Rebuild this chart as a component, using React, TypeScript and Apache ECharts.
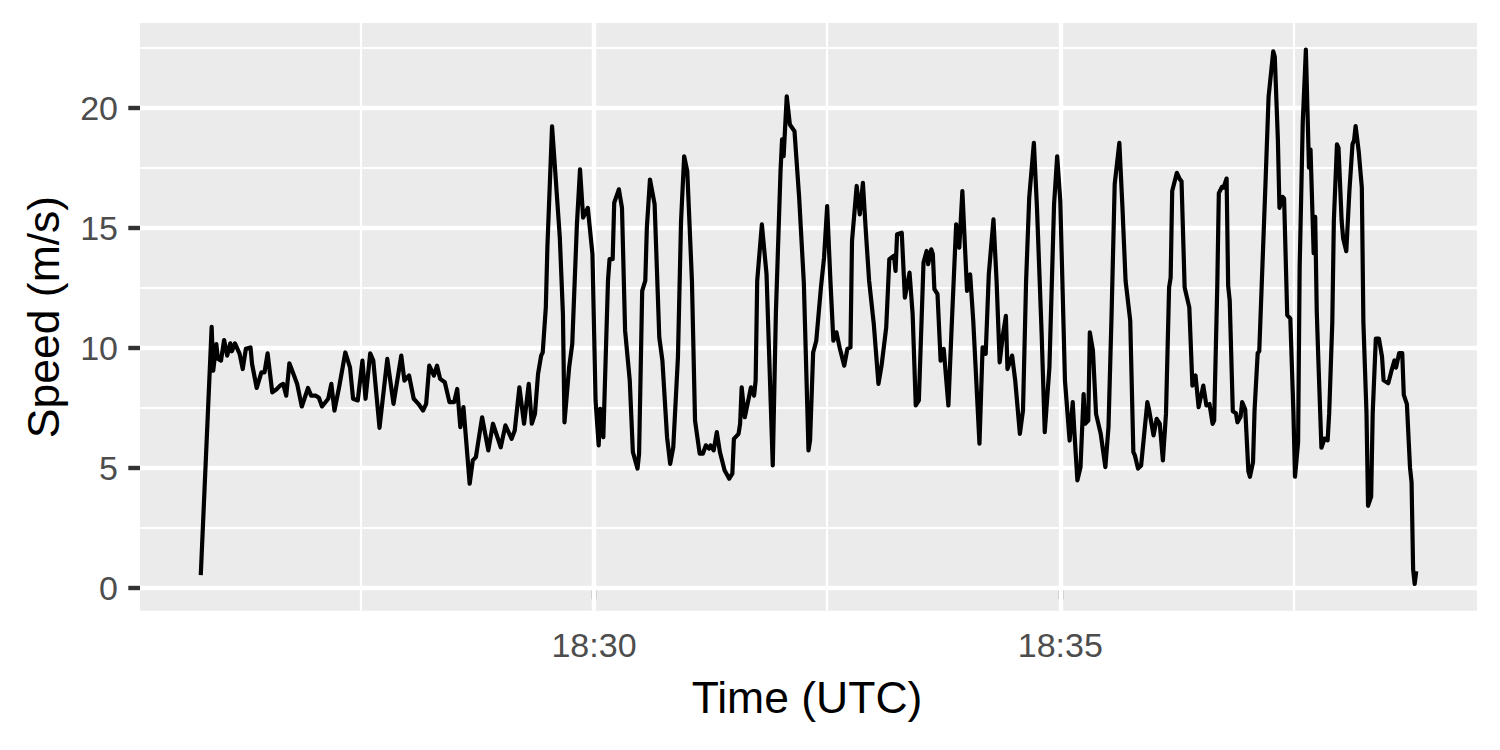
import React, { useEffect, useRef } from "react";
import * as echarts from "echarts";

// Time: seconds after 18:25:00 UTC
const timeSec = [
  47, 54, 55, 57, 58, 60, 62, 64, 66, 67, 69, 72, 74, 76, 79, 80, 83, 86, 88, 90,
  93, 96, 98, 100, 102, 104, 107, 109, 112, 116, 118, 121, 123, 125, 129, 131, 133, 136, 140, 143,
  145, 148, 151, 153, 156, 158, 162, 167, 171, 176, 178, 181, 184, 187, 190, 192, 194, 197, 199, 201,
  204, 207, 210, 212, 214, 216, 220, 222, 224, 228, 232, 235, 240, 243, 247, 249, 252, 255, 258, 260,
  262, 264, 266, 267, 269, 270, 273, 274, 278, 280, 281, 284, 286, 289, 291, 293, 296, 299, 301, 303,
  304, 306, 309, 310, 312, 313, 316, 318, 320, 323, 325, 328, 329, 331, 333, 334, 336, 339, 342, 344,
  347, 349, 351, 354, 356, 358, 360, 363, 365, 368, 370, 372, 374, 375, 377, 379, 381, 384, 387, 389,
  390, 393, 394, 395, 397, 401, 403, 404, 405, 408, 411, 415, 417, 420, 421, 422, 424, 426, 429, 432,
  435, 438, 439, 441, 443, 446, 448, 450, 452, 454, 456, 458, 461, 463, 465, 466, 469, 471, 473, 475,
  477, 480, 483, 485, 488, 490, 493, 494, 495, 498, 500, 503, 505, 507, 509, 512, 514, 515, 517, 518,
  519, 521, 523, 525, 528, 530, 533, 535, 537, 540, 542, 544, 548, 550, 552, 554, 557, 559, 561, 563,
  565, 566, 569, 571, 574, 576, 578, 580, 583, 585, 588, 590, 593, 596, 598, 600, 603, 606, 608, 609,
  611, 613, 615, 616, 618, 619, 621, 623, 626, 629, 631, 633, 635, 638, 640, 642, 645, 647, 648, 650,
  652, 654, 656, 657, 660, 662, 664, 666, 668, 670, 671, 672, 675, 677, 678, 680, 683, 685, 687, 689,
  692, 694, 696, 698, 699, 701, 702, 704, 705, 707, 708, 709, 711, 713, 714, 716, 717, 719, 721, 722,
  724, 725, 727, 728, 730, 732, 734, 737, 738, 740, 741, 743, 744, 746, 748, 750, 751, 753, 754, 756,
  758, 760, 761, 763, 764, 765, 766, 768, 770, 772, 773, 775, 776, 778, 779, 781, 782, 784, 786, 788,
  789, 790, 792, 794, 795, 797, 798, 800, 801, 803, 805, 807, 808, 810, 811, 813, 815, 816, 818, 820,
  821, 823, 825, 826, 827, 828, 829,
];

// Speed (m/s)
const speed = [
  0.52, 10.87, 9.04, 10.15, 9.54, 9.46, 10.32, 9.67, 10.18, 9.85, 10.18, 9.74, 9.11, 9.95, 10.01, 9.32, 8.32, 8.97, 8.97, 9.76,
  8.14, 8.28, 8.42, 8.49, 8.0, 9.35, 8.84, 8.49, 7.55, 8.32, 8.0, 8.0, 7.91, 7.55, 7.87, 8.49, 7.38, 8.35, 9.8, 9.18,
  7.87, 7.8, 9.46, 7.87, 9.76, 9.46, 6.66, 9.53, 7.66, 9.67, 8.63, 8.84, 7.87, 7.66, 7.38, 7.66, 9.25, 8.84, 9.25, 8.7,
  8.56, 7.73, 7.73, 8.28, 6.69, 7.52, 4.33, 5.3, 5.44, 7.1, 5.72, 6.83, 5.85, 6.76, 6.2, 6.55, 8.35, 6.83, 8.49, 6.83,
  7.24, 8.91, 9.67, 9.8, 11.68, 14.17, 19.23, 18.33, 14.59, 11.4, 6.89, 9.18, 10.15, 15.14, 17.43, 15.42, 15.83, 13.9, 7.8, 5.93,
  7.45, 6.27, 12.8, 13.69, 13.69, 16.04, 16.6, 15.83, 10.71, 8.63, 5.65, 4.96, 5.58, 12.37, 12.79, 15.0, 17.01, 15.98, 10.43, 9.46,
  6.27, 5.16, 5.85, 9.6, 15.28, 17.98, 17.36, 12.79, 6.96, 5.58, 5.58, 5.93, 5.79, 5.93, 5.72, 6.48, 5.65, 4.89, 4.54, 4.75,
  6.2, 6.41, 6.83, 8.35, 7.1, 8.35, 8.0, 8.63, 12.79, 15.14, 13.06, 5.09, 11.4, 17.36, 18.68, 17.98, 20.48, 19.3, 19.02, 16.25,
  12.7, 5.72, 6.13, 9.8, 10.29, 12.51, 13.75, 15.9, 12.92, 10.29, 10.64, 10.01, 9.25, 9.95, 10.01, 14.45, 16.74, 15.56, 16.87, 14.73,
  12.79, 10.99, 8.49, 9.25, 10.84, 13.69, 13.83, 13.2, 14.73, 14.79, 12.09, 13.13, 11.4, 7.59, 7.8, 13.55, 14.03, 13.48, 14.1, 13.9,
  12.44, 12.23, 9.46, 9.95, 7.59, 10.71, 15.14, 14.17, 16.53, 12.37, 13.06, 11.12, 6.0, 10.01, 9.74, 13.06, 15.35, 12.79, 9.39, 10.5,
  11.33, 9.11, 9.67, 8.63, 6.41, 7.38, 12.79, 16.25, 18.54, 15.83, 10.57, 6.48, 9.18, 15.98, 17.98, 16.11, 8.63, 6.13, 7.73, 6.55,
  4.47, 5.02, 8.07, 6.83, 6.96, 10.64, 9.88, 7.24, 6.41, 5.02, 6.69, 11.4, 16.81, 18.54, 15.83, 12.79, 11.12, 5.65, 5.51, 4.96,
  5.09, 6.41, 7.73, 7.45, 6.34, 7.03, 6.83, 5.3, 7.24, 12.51, 12.92, 16.53, 17.29, 17.01, 16.94, 12.51, 11.68, 8.42, 8.84, 7.52,
  8.42, 7.59, 7.65, 6.82, 6.97, 12.58, 16.44, 16.7, 16.67, 17.05, 12.58, 11.97, 7.35, 7.27, 6.89, 7.12, 7.73, 7.42, 4.85, 4.62,
  5.23, 7.42, 9.77, 9.85, 13.33, 16.82, 20.45, 22.35, 22.12, 18.64, 15.83, 16.29, 16.21, 11.36, 11.21, 7.27, 4.62, 6.06, 13.33, 19.39,
  22.42, 17.5, 18.26, 13.94, 15.45, 11.52, 9.55, 5.83, 6.21, 6.14, 7.27, 11.06, 15.3, 18.48, 18.33, 15.3, 14.55, 14.02, 16.52, 18.48,
  18.64, 19.24, 18.18, 16.67, 11.06, 7.27, 3.41, 3.79, 7.27, 10.38, 10.38, 9.62, 8.64, 8.56, 8.52, 9.02, 9.47, 9.17, 9.77, 9.77,
  8.03, 7.65, 5.0, 4.39, 0.76, 0.15, 0.68,
];

const yTicks = [0, 5, 10, 15, 20];
const yMinor = [2.5, 7.5, 12.5, 17.5, 22.5];
const xTicks = [300, 600]; // 18:30, 18:35
const xMinor = [150, 450, 750]; // 18:27:30, 18:32:30, 18:37:30

const fmtTime = (s: number) => {
  const total = 25 * 60 + s;
  const m = Math.floor(total / 60);
  return "18:" + String(m).padStart(2, "0");
};

export default function App() {
  const ref = useRef<HTMLDivElement>(null);
  useEffect(() => {
    if (!ref.current) return;
    const chart = echarts.init(ref.current, null, { renderer: "svg" });
    const tMin = Math.min(...timeSec);
    const tMax = Math.max(...timeSec);
    const sMin = Math.min(...speed);
    const sMax = Math.max(...speed);
    const xPad = (tMax - tMin) * 0.05;
    const yPad = (sMax - sMin) * 0.05;
    const font = "'Liberation Sans', Arial, Helvetica, sans-serif";
    const major = 4.4;
    const minor = 2.2;
    const gridLines = [
      ...yMinor.map((v) => ({ yAxis: v, lineStyle: { color: "#ffffff", width: minor, type: "solid" } })),
      ...xMinor.map((v) => ({ xAxis: v, lineStyle: { color: "#ffffff", width: minor, type: "solid" } })),
      ...yTicks.map((v) => ({ yAxis: v, lineStyle: { color: "#ffffff", width: major, type: "solid" } })),
      ...xTicks.map((v) => ({ xAxis: v, lineStyle: { color: "#ffffff", width: major, type: "solid" } })),
    ];
    chart.setOption({
      animation: false,
      grid: {
        left: 140,
        right: 23,
        top: 23,
        bottom: 139.3,
        show: true,
        backgroundColor: "#EBEBEB",
        borderWidth: 0,
      },
      xAxis: {
        type: "value",
        min: tMin - xPad,
        max: tMax + xPad,
        axisLine: { show: false },
        splitLine: { show: false },
        axisTick: {
          show: true,
          customValues: xTicks,
          length: 11.7,
          lineStyle: { color: "#333333", width: major },
        },
        axisLabel: {
          customValues: xTicks,
          formatter: (v: number) => fmtTime(v),
          color: "#4D4D4D",
          fontSize: 34,
          fontFamily: font,
          margin: 17,
        },
      },
      yAxis: {
        type: "value",
        min: sMin - yPad,
        max: sMax + yPad,
        axisLine: { show: false },
        splitLine: { show: false },
        axisTick: {
          show: true,
          customValues: yTicks,
          length: 11.7,
          lineStyle: { color: "#333333", width: major },
        },
        axisLabel: {
          customValues: yTicks,
          color: "#4D4D4D",
          fontSize: 34,
          fontFamily: font,
          margin: 22,
        },
      },
      graphic: [
        {
          type: "text",
          x: 807,
          y: 697,
          style: {
            text: "Time (UTC)",
            fontSize: 44.5,
            fontFamily: font,
            fill: "#000000",
            align: "center",
            verticalAlign: "middle",
          },
        },
        {
          type: "text",
          x: 43,
          y: 317,
          rotation: Math.PI / 2,
          style: {
            text: "Speed (m/s)",
            fontSize: 44.5,
            fontFamily: font,
            fill: "#000000",
            align: "center",
            verticalAlign: "middle",
          },
        },
      ],
      series: [
        {
          type: "line",
          data: [],
          silent: true,
          z: 1,
          markLine: {
            z: 1,
            silent: true,
            symbol: ["none", "none"],
            label: { show: false },
            data: gridLines,
          },
        },
        {
          type: "line",
          z: 5,
          data: timeSec.map((t, i) => [t, speed[i]]),
          showSymbol: false,
          symbol: "none",
          smooth: false,
          lineStyle: { color: "#000000", width: 4.2, join: "round" },
        },
      ],
    });
    return () => chart.dispose();
  }, []);
  return (
    <div
      ref={ref}
      style={{ position: "fixed", left: 0, top: 0, width: 1500, height: 750, background: "#ffffff" }}
    />
  );
}
